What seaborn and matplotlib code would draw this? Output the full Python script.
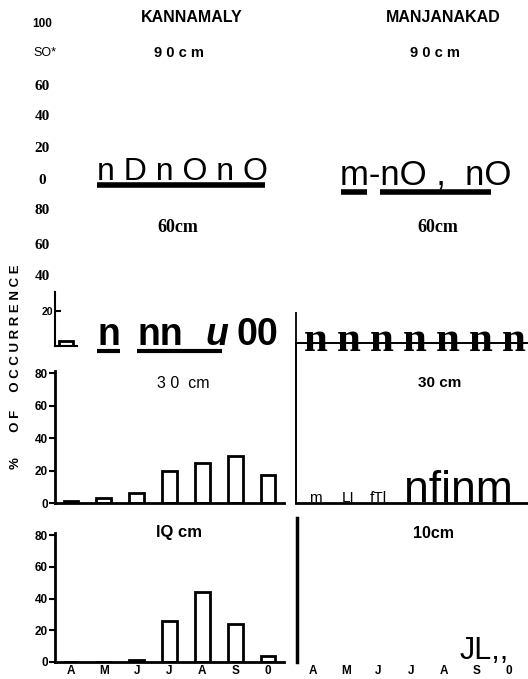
import matplotlib
matplotlib.use('Agg')
import matplotlib.pyplot as plt
from matplotlib.lines import Line2D
import seaborn as sns

sns.set_theme(style='white')
plt.rcParams['font.family'] = ['Liberation Sans', 'DejaVu Sans']
for k in ['text.color', 'axes.labelcolor', 'xtick.color', 'ytick.color', 'axes.edgecolor']:
    plt.rcParams[k] = 'black'

# data
months = ['A', 'M', 'J', 'J', 'A', 'S', '0']
kann_30cm = [1.5, 3, 6, 20, 24.5, 29, 17]
kann_10cm = [0, 0, 1.5, 26, 44, 24, 4]
kann_60cm_april = [2.8]
yticks_main = [0, 20, 40, 60, 80]
left_scale_labels = ['100', 'SO*', '60', '40', '20', '0', '80', '60', '40']

W, H = 528, 679
fig = plt.figure(figsize=(W / 100, H / 100), dpi=100)


def px_axes(x0, y0, x1, y1):
    return fig.add_axes([x0 / W, 1 - y1 / H, (x1 - x0) / W, (y1 - y0) / H])


def ptext(x, y, s, **kw):
    kw.setdefault('ha', 'center')
    kw.setdefault('va', 'center')
    return fig.text(x / W, 1 - y / H, s, **kw)


def pline(x0, y0, x1, y1, lw=3):
    fig.add_artist(Line2D([x0 / W, x1 / W], [1 - y0 / H, 1 - y1 / H],
                          color='black', lw=lw, solid_capstyle='butt'))


def bar_panel(ax, vals, ymax, show_months):
    sns.barplot(x=list(range(len(vals))), y=vals, ax=ax, color='white',
                edgecolor='black', linewidth=2, width=0.45, saturation=1)
    ax.set_facecolor('none')
    ax.set_ylim(0, ymax)
    ax.set_xlim(-0.5, len(vals) - 0.5)
    ax.set_yticks(yticks_main)
    ax.set_yticklabels([str(t) for t in yticks_main], fontsize=8.5, fontweight='bold')
    ax.tick_params(axis='y', direction='out', length=4, width=1.5, pad=1, left=True)
    ax.set_xlabel('')
    ax.set_ylabel('')
    sns.despine(ax=ax)
    for s in ['left', 'bottom']:
        ax.spines[s].set_linewidth(2)
        ax.spines[s].set_color('black')
    if show_months:
        ax.set_xticks(range(len(months)))
        ax.set_xticklabels(months, fontsize=8.5, fontweight='bold')
        ax.tick_params(axis='x', length=0, pad=2)
    else:
        ax.set_xticks([])


# column headers
ptext(192, 18, 'KANNAMALY', fontsize=11.5, fontweight='bold')
ptext(443, 18, 'MANJANAKAD', fontsize=11.5, fontweight='bold')

# left scale column (OCR remnants)
ptext(42, 24, left_scale_labels[0], fontsize=8.5, fontweight='bold')
ptext(45, 53, left_scale_labels[1], fontsize=9)
for lab, yy in zip(left_scale_labels[2:], [86, 117, 149, 181, 211, 245, 277]):
    ptext(42, yy, lab, fontsize=11, fontweight='bold', family='Liberation Serif')

# 90 cm row
ptext(179, 53, '9 0 c m', fontsize=10.5, fontweight='bold')
ptext(435, 53, '9 0 c m', fontsize=10.5, fontweight='bold')
ptext(97, 180, 'n D n O n O', fontsize=23, ha='left', va='baseline')
pline(97, 185, 265, 185, lw=4)
ptext(340, 185, 'm-nO ,  nO', fontsize=25, ha='left', va='baseline')
pline(341, 192, 367, 192, lw=4)
pline(380, 192, 491, 192, lw=4)

# 60 cm row
ptext(178, 228, '60cm', fontsize=13, fontweight='bold', family='Liberation Serif')
ptext(438, 228, '60cm', fontsize=13, fontweight='bold', family='Liberation Serif')
ax60 = px_axes(55, 292, 77, 346)
sns.barplot(x=[0], y=kann_60cm_april, ax=ax60, color='white', edgecolor='black',
            linewidth=2, width=0.6, saturation=1)
ax60.set_facecolor('none')
ax60.set_ylim(0, 30.9)
ax60.set_yticks([20])
ax60.set_yticklabels(['20'], fontsize=7.5, fontweight='bold')
ax60.tick_params(axis='y', direction='in', length=4, width=1.5, pad=1, left=True)
ax60.set_xticks([])
ax60.set_ylabel('')
sns.despine(ax=ax60)
for s in ['left', 'bottom']:
    ax60.spines[s].set_linewidth(1.5)
ptext(97, 345, 'n', fontsize=27, fontweight='bold', ha='left', va='baseline')
ptext(137, 345, 'nn', fontsize=27, fontweight='bold', ha='left', va='baseline')
ptext(205, 345, 'u', fontsize=27, fontweight='bold', style='italic', ha='left', va='baseline')
ptext(278, 345, '00', fontsize=27, fontweight='bold', ha='right', va='baseline')
pline(97, 351, 120, 351, lw=3)
pline(137, 351, 222, 351, lw=3)
pline(296, 312, 296, 343, lw=1.3)
for i, _ in enumerate(months):
    ptext(316 + i * 33, 351, 'n', fontsize=31, fontweight='bold',
          family='Liberation Serif', va='baseline')

# y label
ptext(16, 367, '%' + ' ' * 7 + 'O F' + ' ' * 5 + 'O C C U R R E N C E',
      rotation=90, fontsize=9.5, fontweight='bold')

# 30 cm row
ax30 = px_axes(54.6, 371, 284.4, 503)
bar_panel(ax30, kann_30cm, 80 * 132 / 130, show_months=False)
ptext(183, 383, '3 0  cm', fontsize=11.5)

axr30 = px_axes(296, 343, 528, 503)
axr30.set_facecolor('none')
axr30.set_xticks([])
axr30.set_yticks([])
axr30.spines['right'].set_visible(False)
for s in ['left', 'top', 'bottom']:
    axr30.spines[s].set_linewidth(1.4)
    axr30.spines[s].set_color('black')
axr30.spines['bottom'].set_linewidth(2)
ptext(440, 383, '30 cm', fontsize=11, fontweight='bold')
ptext(315, 502, 'm', fontsize=11, va='baseline')
ptext(348, 502, 'LI', fontsize=11, va='baseline')
ptext(378, 502, 'fTl', fontsize=11, va='baseline')
ptext(404, 502, 'nfinm', fontsize=32, ha='left', va='baseline')

# 10 cm row
ax10 = px_axes(54.6, 533, 284.4, 662)
bar_panel(ax10, kann_10cm, 80 * 129 / 127, show_months=True)
ptext(179, 533, 'lQ cm', fontsize=12, fontweight='bold')

axr10 = px_axes(297, 518, 525, 662)
axr10.set_facecolor('none')
axr10.set_xlim(-0.5, len(months) - 0.5)
axr10.set_xticks(range(len(months)))
axr10.set_xticklabels(months, fontsize=8.5, fontweight='bold')
axr10.tick_params(axis='x', length=0, pad=2)
axr10.set_yticks([])
for s in ['right', 'top', 'bottom']:
    axr10.spines[s].set_visible(False)
axr10.spines['left'].set_linewidth(2.5)
axr10.spines['left'].set_color('black')
ptext(434, 533, '10cm', fontsize=11.5, fontweight='bold')
ptext(460, 659, 'JL,,', fontsize=22, ha='left', va='baseline')

fig.savefig('out.png', dpi=100)
